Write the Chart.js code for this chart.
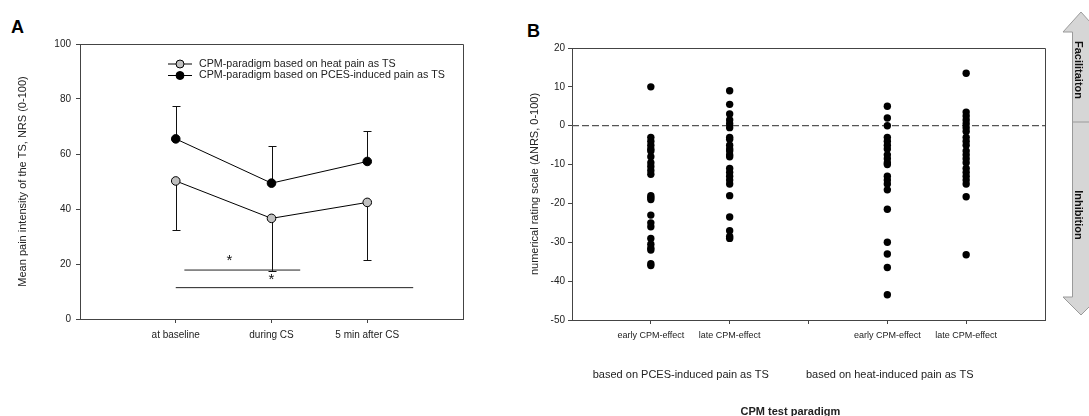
<!DOCTYPE html>
<html>
<head>
<meta charset="utf-8">
<script src="https://cdn.jsdelivr.net/npm/chart.js@4.4.0/dist/chart.umd.min.js"></script>
<style>
  body { margin: 0; background: #fff; width: 1089px; height: 416px; overflow: hidden; position: relative;
         font-family: "Liberation Sans", Arial, sans-serif; }
  canvas { position: absolute; top: 0; }
  #chartA { left: 0; }
  #chartB { left: 500px; }
  .panel { position: absolute; font-weight: bold; font-size: 18px; line-height: 18px; color: #000; }
  #arrow { position: absolute; left: 1055px; top: 0; }
</style>
</head>
<body>
<div class="panel" style="left:11px;top:18px">A</div>
<div class="panel" style="left:527px;top:22px">B</div>
<canvas id="chartA" width="480" height="416"></canvas>
<canvas id="chartB" width="589" height="416"></canvas>
<svg id="arrow" width="50" height="330" xmlns="http://www.w3.org/2000/svg">
  <polygon points="26,12 44,32 34.5,32 34.5,297 44,297 26,315 8,297 17.5,297 17.5,32 8,32"
           fill="#d6d6d6" stroke="#9a9a9a" stroke-width="1"/>
  <line x1="17.5" y1="122" x2="34.5" y2="122" stroke="#9a9a9a" stroke-width="1"/>
  <text x="0" y="0" transform="translate(23,70) rotate(90)" text-anchor="middle" dominant-baseline="middle"
        font-family="Liberation Sans, Arial, sans-serif" font-weight="bold" font-size="11" fill="#111">Facilitaiton</text>
  <text x="0" y="0" transform="translate(23,215) rotate(90)" text-anchor="middle" dominant-baseline="middle"
        font-family="Liberation Sans, Arial, sans-serif" font-weight="bold" font-size="11" fill="#111">Inhibition</text>
</svg>
<script>
// ---- Panel A data ----
const timeLabels = ['at baseline', 'during CS', '5 min after CS'];
const heatMean = [50.2, 36.6, 42.4];
const heatErr = [17.7, 19.1, 20.9];   // drawn downwards
const pcesMean = [65.5, 49.4, 57.3];
const pcesErr = [12.0, 13.6, 11.1];   // drawn upwards
const legendLabels = ['CPM-paradigm based on heat pain as TS', 'CPM-paradigm based on PCES-induced pain as TS'];
const sigFrom = [1.09, 1.0];
const sigTo = [2.3, 3.48];
const sigLevel = [17.8, 11.4];
const starX = [1.56, 2.0];
const starY = [18.8, 12.0];

// ---- Panel B data ----
const effectLabels = ['early CPM-effect', 'late CPM-effect', '', 'early CPM-effect', 'late CPM-effect'];
const groupLabels = ['based on PCES-induced pain as TS', 'based on heat-induced pain as TS'];
const groupLabelX = [1.38, 4.03];
const earlyPces = [10, -3, -4, -5, -6, -6.5, -8, -9.5, -10.5, -11.5, -12.5, -18, -18.5, -19, -23, -25, -26, -29, -30.5, -31.5, -32, -35.5, -36];
const latePces = [9, 5.5, 3, 1.5, 0.5, -0.5, -3, -3.5, -5, -6, -6.5, -7.5, -8, -11, -12, -13, -14, -15, -18, -23.5, -27, -28.5, -29];
const earlyHeat = [5, 2, 0, -3, -4, -5, -6, -7.5, -8.5, -9.5, -10, -13, -14, -15, -16.5, -21.5, -30, -33, -36.5, -43.5];
const lateHeat = [13.5, 3.5, 2.5, 1.5, 0.5, -0.5, -1.5, -3, -4, -5, -6.5, -7.5, -8.5, -9.5, -11, -12, -13, -14, -15, -18.3, -33.2];

const FONT = '"Liberation Sans", Arial, sans-serif';
Chart.defaults.font.family = FONT;
Chart.defaults.color = '#222';
Chart.defaults.animation = false;

// box round the plot area (top and right sides)
const framePlugin = {
  id: 'frame',
  afterDraw(chart) {
    const a = chart.chartArea, ctx = chart.ctx;
    ctx.save();
    ctx.strokeStyle = '#444';
    ctx.lineWidth = 1;
    ctx.beginPath();
    ctx.moveTo(a.left, a.top + 0.5);
    ctx.lineTo(a.right + 0.5, a.top + 0.5);
    ctx.lineTo(a.right + 0.5, a.bottom);
    ctx.stroke();
    ctx.restore();
  }
};

function toPoints(xs, ys) {
  return ys.map((y, i) => ({ x: xs[i], y: y }));
}

// ---- Chart A ----
const errorBarPlugin = {
  id: 'errorBars',
  beforeDatasetsDraw(chart) {
    const xS = chart.scales.x, yS = chart.scales.y, ctx = chart.ctx;
    const sets = [{ mean: heatMean, err: heatErr, dir: -1 }, { mean: pcesMean, err: pcesErr, dir: 1 }];
    ctx.save();
    ctx.strokeStyle = '#111';
    ctx.lineWidth = 1;
    sets.forEach(s => {
      s.mean.forEach((m, i) => {
        const px = Math.round(xS.getPixelForValue(i + 1)) + 0.5;
        const y0 = yS.getPixelForValue(m);
        const y1 = Math.round(yS.getPixelForValue(m + s.dir * s.err[i])) + 0.5;
        ctx.beginPath();
        ctx.moveTo(px, y0);
        ctx.lineTo(px, y1);
        ctx.moveTo(px - 4, y1);
        ctx.lineTo(px + 4, y1);
        ctx.stroke();
      });
    });
    ctx.restore();
  },
  afterDatasetsDraw(chart) {
    const xS = chart.scales.x, yS = chart.scales.y, ctx = chart.ctx;
    ctx.save();
    ctx.fillStyle = '#111';
    ctx.font = '15px ' + FONT;
    ctx.textAlign = 'center';
    ctx.textBaseline = 'alphabetic';
    starX.forEach((sx, i) => {
      ctx.fillText('*', xS.getPixelForValue(sx), yS.getPixelForValue(starY[i]) - 2);
    });
    // legend
    ctx.font = '10.7px ' + FONT;
    ctx.textAlign = 'left';
    ctx.textBaseline = 'middle';
    const rows = [64, 75.5];
    const fills = ['#c0c0c0', '#000'];
    legendLabels.forEach((t, i) => {
      const y = rows[i];
      ctx.strokeStyle = '#000';
      ctx.lineWidth = 1;
      ctx.beginPath();
      ctx.moveTo(168, y);
      ctx.lineTo(192, y);
      ctx.stroke();
      ctx.beginPath();
      ctx.arc(180, y, 4, 0, Math.PI * 2);
      ctx.fillStyle = fills[i];
      ctx.fill();
      ctx.stroke();
      ctx.fillStyle = '#222';
      ctx.fillText(t, 199, y);
    });
    ctx.restore();
  }
};

const sigDatasets = sigFrom.map((f, i) => ({
  data: [{ x: f, y: sigLevel[i] }, { x: sigTo[i], y: sigLevel[i] }],
  showLine: true,
  borderColor: '#222',
  borderWidth: 1,
  pointRadius: 0,
  order: 5
}));

new Chart(document.getElementById('chartA'), {
  type: 'scatter',
  data: {
    datasets: [
      {
        label: legendLabels[0],
        data: toPoints([1, 2, 3], heatMean),
        showLine: true,
        borderColor: '#000',
        borderWidth: 1,
        pointRadius: 4.3,
        pointBackgroundColor: '#c0c0c0',
        pointBorderColor: '#000',
        pointBorderWidth: 1
      },
      {
        label: legendLabels[1],
        data: toPoints([1, 2, 3], pcesMean),
        showLine: true,
        borderColor: '#000',
        borderWidth: 1,
        pointRadius: 4.3,
        pointBackgroundColor: '#000',
        pointBorderColor: '#000',
        pointBorderWidth: 1
      }
    ].concat(sigDatasets)
  },
  options: {
    responsive: false,
    layout: { padding: { left: 0, top: 44, right: 17, bottom: 0 } },
    plugins: { legend: { display: false }, tooltip: { enabled: false } },
    scales: {
      x: {
        type: 'linear',
        min: 0,
        max: 4,
        afterBuildTicks: s => { s.ticks = [1, 2, 3].map(v => ({ value: v })); },
        afterFit: s => { s.height = 97; },
        border: { color: '#444' },
        grid: { drawOnChartArea: false, tickLength: 4, color: '#444' },
        ticks: {
          font: { size: 10 },
          padding: 6,
          maxRotation: 0,
          autoSkip: false,
          callback: v => timeLabels[v - 1]
        }
      },
      y: {
        min: 0,
        max: 100,
        afterFit: s => { s.width = 80; },
        border: { color: '#444' },
        grid: { drawOnChartArea: false, tickLength: 4, color: '#444' },
        ticks: { stepSize: 20, font: { size: 10 }, padding: 5 },
        title: {
          display: true,
          text: 'Mean pain intensity of the TS, NRS (0-100)',
          font: { size: 11 },
          padding: { top: 16, bottom: 0 }
        }
      }
    }
  },
  plugins: [errorBarPlugin, framePlugin]
});

// ---- Chart B ----
const bLabelsPlugin = {
  id: 'groupLabels',
  afterDraw(chart) {
    const xS = chart.scales.x, ctx = chart.ctx;
    ctx.save();
    ctx.fillStyle = '#222';
    ctx.textAlign = 'center';
    ctx.textBaseline = 'middle';
    ctx.font = '11px ' + FONT;
    groupLabels.forEach((t, i) => {
      ctx.fillText(t, xS.getPixelForValue(groupLabelX[i]), 375);
    });
    ctx.font = 'bold 11px ' + FONT;
    ctx.fillText('CPM test paradigm', xS.getPixelForValue(2.77), 412);
    ctx.restore();
  }
};

function column(x, values) {
  return {
    data: values.map(v => ({ x: x, y: v })),
    pointRadius: 3.7,
    pointBackgroundColor: '#000',
    pointBorderColor: '#000',
    pointBorderWidth: 0,
    order: 0
  };
}

new Chart(document.getElementById('chartB'), {
  type: 'scatter',
  data: {
    datasets: [
      column(1, earlyPces),
      column(2, latePces),
      column(4, earlyHeat),
      column(5, lateHeat),
      {
        data: [{ x: 0, y: 0 }, { x: 6, y: 0 }],
        showLine: true,
        borderColor: '#555',
        borderWidth: 1.2,
        borderDash: [7, 3],
        pointRadius: 0,
        order: 10
      }
    ]
  },
  options: {
    responsive: false,
    layout: { padding: { left: 0, top: 48, right: 44, bottom: 0 } },
    plugins: { legend: { display: false }, tooltip: { enabled: false } },
    scales: {
      x: {
        type: 'linear',
        min: 0,
        max: 6,
        afterBuildTicks: s => { s.ticks = [1, 2, 3, 4, 5].map(v => ({ value: v })); },
        afterFit: s => { s.height = 96; },
        border: { color: '#444' },
        grid: { drawOnChartArea: false, tickLength: 4, color: '#444' },
        ticks: {
          font: { size: 9 },
          padding: 6,
          maxRotation: 0,
          autoSkip: false,
          callback: v => effectLabels[v - 1]
        }
      },
      y: {
        min: -50,
        max: 20,
        afterFit: s => { s.width = 72; },
        border: { color: '#444' },
        grid: { drawOnChartArea: false, tickLength: 4, color: '#444' },
        ticks: { stepSize: 10, font: { size: 10 }, padding: 3 },
        title: {
          display: true,
          text: 'numerical rating scale (\u0394NRS, 0-100)',
          font: { size: 11 },
          padding: { top: 28, bottom: 0 }
        }
      }
    }
  },
  plugins: [bLabelsPlugin, framePlugin]
});
</script>
</body>
</html>
